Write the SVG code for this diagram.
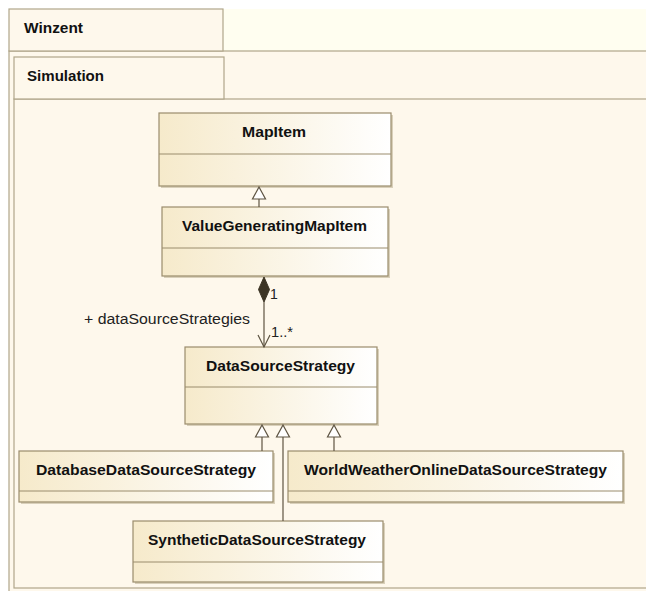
<svg xmlns="http://www.w3.org/2000/svg" width="646" height="591" viewBox="0 0 646 591">
  <defs>
    <linearGradient id="cls" x1="0" y1="0" x2="1" y2="0">
      <stop offset="0" stop-color="#F6EACB"/>
      <stop offset="1" stop-color="#FFFFFF"/>
    </linearGradient>
    <marker id="gen" viewBox="0 0 14 14" markerWidth="14" markerHeight="14" refX="7" refY="1" orient="0" markerUnits="userSpaceOnUse">
      <polygon points="7,1 13,12 1,12" fill="#FFFFFF" stroke="#5E5442" stroke-width="1"/>
    </marker>
  </defs>
  <style>
    .pkg { fill: #FEF8EC; stroke: #B0A68A; stroke-width: 1.2; }
    .pkgline { stroke: #B0A68A; stroke-width: 1.2; fill: none; }
    .box { fill: url(#cls); stroke: #9A8C6C; stroke-width: 1.2; }
    .shadow { fill: #D9D0BA; }
    .div { stroke: #9A8C6C; stroke-width: 1; }
    .name { font-family: "Liberation Sans", Arial, sans-serif; font-weight: bold; font-size: 14px; fill: #111111; }
    .lbl { font-family: "Liberation Sans", Arial, sans-serif; font-size: 14px; fill: #222222; }
    .conn { stroke: #5E5442; stroke-width: 1.2; fill: none; }
    .tri { fill: #FFFFFF; stroke: #5E5442; stroke-width: 1.2; }
  </style>

  <!-- background -->
  <rect x="0" y="0" width="646" height="591" fill="#FFFFFF"/>
  <rect x="9" y="9" width="637" height="42" fill="#FFFEF0"/>

  <!-- Winzent package -->
  <g id="pkg-winzent">
    <rect class="pkg" x="9" y="51" width="650" height="560"/>
    <rect class="pkg" x="9" y="9" width="214" height="42"/>
    <text class="name" x="24" y="33" textLength="59" lengthAdjust="spacingAndGlyphs">Winzent</text>
  </g>

  <!-- Simulation package -->
  <g id="pkg-simulation">
    <rect class="pkg" x="14" y="99" width="650" height="489"/>
    <rect class="pkg" x="14" y="57" width="210" height="42"/>
    <text class="name" x="27" y="81" textLength="77" lengthAdjust="spacingAndGlyphs">Simulation</text>
  </g>

  <!-- Classes -->
  <g id="MapItem">
    <rect class="shadow" x="161" y="115" width="232" height="73"/>
    <rect class="box" x="159" y="113" width="232" height="73"/>
    <line class="div" x1="159" y1="154" x2="391" y2="154"/>
    <text class="name" x="242" y="137" textLength="64" lengthAdjust="spacingAndGlyphs">MapItem</text>
  </g>

  <g id="ValueGeneratingMapItem">
    <rect class="shadow" x="164" y="209" width="226" height="69"/>
    <rect class="box" x="162" y="207" width="226" height="69"/>
    <line class="div" x1="162" y1="248" x2="388" y2="248"/>
    <text class="name" x="182" y="231" textLength="185" lengthAdjust="spacingAndGlyphs">ValueGeneratingMapItem</text>
  </g>

  <g id="DataSourceStrategy">
    <rect class="shadow" x="187" y="349" width="192" height="77"/>
    <rect class="box" x="185" y="347" width="192" height="77"/>
    <line class="div" x1="185" y1="387" x2="377" y2="387"/>
    <text class="name" x="206" y="371" textLength="149" lengthAdjust="spacingAndGlyphs">DataSourceStrategy</text>
  </g>

  <g id="DatabaseDataSourceStrategy">
    <rect class="shadow" x="21" y="453" width="254" height="51"/>
    <rect class="box" x="19" y="451" width="254" height="51"/>
    <line class="div" x1="19" y1="491" x2="273" y2="491"/>
    <text class="name" x="36" y="475" textLength="220" lengthAdjust="spacingAndGlyphs">DatabaseDataSourceStrategy</text>
  </g>

  <g id="WorldWeatherOnlineDataSourceStrategy">
    <rect class="shadow" x="290" y="453" width="335" height="51"/>
    <rect class="box" x="288" y="451" width="335" height="51"/>
    <line class="div" x1="288" y1="491" x2="623" y2="491"/>
    <text class="name" x="304" y="475" textLength="303" lengthAdjust="spacingAndGlyphs">WorldWeatherOnlineDataSourceStrategy</text>
  </g>

  <g id="SyntheticDataSourceStrategy">
    <rect class="shadow" x="135" y="523" width="250" height="61"/>
    <rect class="box" x="133" y="521" width="250" height="61"/>
    <line class="div" x1="133" y1="562" x2="383" y2="562"/>
    <text class="name" x="148" y="545" textLength="218" lengthAdjust="spacingAndGlyphs">SyntheticDataSourceStrategy</text>
  </g>

  <!-- Connectors -->
  <g id="connectors">
    <!-- ValueGeneratingMapItem -> MapItem generalization -->
    <line class="conn" x1="259" y1="207" x2="259" y2="199"/>
    <polygon class="tri" points="259,187 265.5,199 252.5,199"/>

    <!-- composition -->
    <polygon points="264,277 269.5,289.5 264,302 258.5,289.5" fill="#3C3424" stroke="#3C3424" stroke-width="1"/>
    <line class="conn" x1="264" y1="302" x2="264" y2="347"/>
    <polyline class="conn" points="258,335 264,347 270,335"/>
    <text class="lbl" x="270" y="299">1</text>
    <text class="lbl" x="271" y="337" textLength="22" lengthAdjust="spacingAndGlyphs">1..*</text>
    <text class="lbl" x="84" y="324" textLength="166" lengthAdjust="spacingAndGlyphs">+ dataSourceStrategies</text>

    <!-- generalizations to DataSourceStrategy -->
    <line class="conn" x1="262" y1="437" x2="262" y2="451"/>
    <polygon class="tri" points="262,425 268.5,437 255.5,437"/>
    <line class="conn" x1="283" y1="437" x2="283" y2="521"/>
    <polygon class="tri" points="283,425 289.5,437 276.5,437"/>
    <line class="conn" x1="334" y1="437" x2="334" y2="451"/>
    <polygon class="tri" points="334,425 340.5,437 327.5,437"/>
  </g>
</svg>
